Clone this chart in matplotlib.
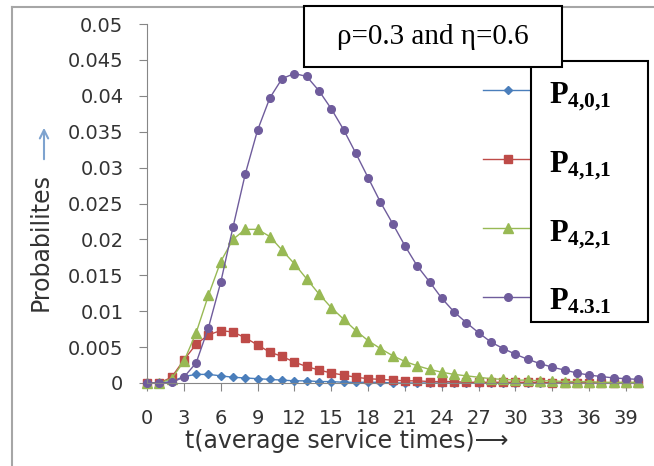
import matplotlib
matplotlib.use('Agg')
import matplotlib.pyplot as plt
from matplotlib.lines import Line2D
from matplotlib.patches import Rectangle

plt.rcParams['mathtext.fontset'] = 'custom'
plt.rcParams['mathtext.rm'] = 'Liberation Serif'
plt.rcParams['mathtext.bf'] = 'Liberation Serif:bold'

t = list(range(41))

p401 = [0, 0, 0.0002, 0.0009, 0.0012, 0.0012, 0.0010, 0.0008, 0.0007, 0.0006,
        0.0005, 0.0004, 0.0003, 0.0003, 0.0002, 0.0002, 0.0001, 0.0001, 0.0001, 0.0001,
        0, 0, 0, 0, 0, 0, 0, 0, 0, 0,
        0, 0, 0, 0, 0, 0, 0, 0, 0, 0,
        0]
p411 = [0, 0, 0.0008, 0.0032, 0.0054, 0.0067, 0.0073, 0.0071, 0.0063, 0.0053,
        0.0043, 0.0037, 0.0029, 0.0023, 0.0018, 0.0014, 0.0011, 0.0008, 0.0006, 0.0005,
        0.0004, 0.0003, 0.0003, 0.0002, 0.0002, 0.0002, 0.0001, 0.0001, 0.0001, 0.0001,
        0.0001, 0.0001, 0.0001, 0, 0, 0, 0, 0, 0, 0,
        0]
p421 = [0, 0, 0.0006, 0.0030, 0.0070, 0.0122, 0.0169, 0.0200, 0.0214, 0.0214,
        0.0204, 0.0185, 0.0166, 0.0145, 0.0124, 0.0105, 0.0089, 0.0073, 0.0059, 0.0048,
        0.0038, 0.0030, 0.0024, 0.0019, 0.0015, 0.0012, 0.0010, 0.0008, 0.0006, 0.0005,
        0.0004, 0.0004, 0.0003, 0.0003, 0.0002, 0.0002, 0.0002, 0.0001, 0.0001, 0.0001,
        0.0001]
p431 = [0, 0, 0.0001, 0.0008, 0.0028, 0.0077, 0.0140, 0.0217, 0.0291, 0.0352,
        0.0397, 0.0424, 0.0431, 0.0427, 0.0407, 0.0382, 0.0353, 0.0320, 0.0286, 0.0252,
        0.0222, 0.0191, 0.0163, 0.0141, 0.0118, 0.0099, 0.0084, 0.0070, 0.0057, 0.0048,
        0.0040, 0.0033, 0.0027, 0.0022, 0.0018, 0.0014, 0.0011, 0.0009, 0.0007, 0.0006,
        0.0005]

series = [p401, p411, p421, p431]
labels = [r'$\mathbf{P_{4{,}0{,}1}}$', r'$\mathbf{P_{4{,}1{,}1}}$',
          r'$\mathbf{P_{4{,}2{,}1}}$', r'$\mathbf{P_{4.3.1}}$']
colors = ['#4A7EBB', '#BE4B48', '#98B954', '#6F5C9C']
markers = ['D', 's', '^', 'o']
msizes = [4, 5.5, 6.5, 5.5]

yticks = [0, 0.005, 0.01, 0.015, 0.02, 0.025, 0.03, 0.035, 0.04, 0.045, 0.05]
ytick_labels = ['0', '0.005', '0.01', '0.015', '0.02', '0.025', '0.03', '0.035', '0.04', '0.045', '0.05']
xticks = list(range(0, 40, 3))

W, H = 654, 466
fig = plt.figure(figsize=(W / 100, H / 100), dpi=100)
ax = fig.add_axes([147 / W, 1 - 383 / H, (642 - 147) / W, (383 - 24) / H])

for ys, c, m, ms in zip(series, colors, markers, msizes):
    ax.plot(t, ys, color=c, lw=1.0, marker=m, ms=ms, mfc=c, mec=c, clip_on=False)

ax.set_xlim(0, 40.3)
ax.set_ylim(0, 0.05)
ax.set_yticks(yticks)
ax.set_yticklabels(ytick_labels)
ax.set_xticks(xticks)
ax.set_xticklabels([str(v) for v in xticks])
ax.tick_params(axis='y', length=6, pad=11, labelsize=14, colors='#868686', labelcolor='#333333')
ax.tick_params(axis='x', length=6, pad=13, labelsize=14, colors='#868686', labelcolor='#333333')
for s in ['top', 'right']:
    ax.spines[s].set_visible(False)
for s in ['left', 'bottom']:
    ax.spines[s].set_color('#868686')

# outer chart border
bc = '#a6a6a6'
fig.add_artist(Line2D([12 / W, 12 / W], [0, 1 - 7 / H], color=bc, lw=1.5, transform=fig.transFigure))
fig.add_artist(Line2D([12 / W, 1], [1 - 7 / H, 1 - 7 / H], color=bc, lw=1.5, transform=fig.transFigure))

fig.text(41 / W, 1 - 242 / H, 'Probabilites', rotation=90, ha='center', va='center',
         fontsize=17, color='#333333')
ax.annotate('', xy=(44 / W, 1 - 125 / H), xytext=(44 / W, 1 - 162 / H), xycoords='figure fraction',
            arrowprops=dict(arrowstyle='->', color='#7EA3CF', lw=1.5, mutation_scale=15))
fig.text(347 / W, 1 - 441 / H, 't(average service times)\u27f6', ha='center', va='center',
         fontsize=17, color='#333333')

# legend box with the samples sticking out to the left
fig.add_artist(Rectangle((531 / W, 1 - 322 / H), 117 / W, 261 / H, transform=fig.transFigure,
                         facecolor='white', edgecolor='black', lw=1.5, zorder=5))
for i, (lab, c, m, ms) in enumerate(zip(labels, colors, markers, msizes)):
    yy = 1 - (90 + 69 * i) / H
    fig.add_artist(Line2D([483 / W, 531 / W], [yy, yy], color=c, lw=1.0, transform=fig.transFigure, zorder=4))
    fig.add_artist(Line2D([508 / W], [yy], color=c, marker=m, ms=ms, transform=fig.transFigure, zorder=4))
    fig.text(549 / W, yy - 13 / H, lab, fontsize=22, ha='left', va='baseline', zorder=6)

# title box
fig.add_artist(Rectangle((304 / W, 1 - 67 / H), 258 / W, 61 / H, transform=fig.transFigure,
                         facecolor='white', edgecolor='black', lw=1.5, zorder=7))
fig.text(433 / W, 1 - 37 / H, '\u03c1=0.3 and \u03b7=0.6', fontsize=21, family='Liberation Serif',
         ha='center', va='center', zorder=8)

fig.savefig('out.png', dpi=100)
